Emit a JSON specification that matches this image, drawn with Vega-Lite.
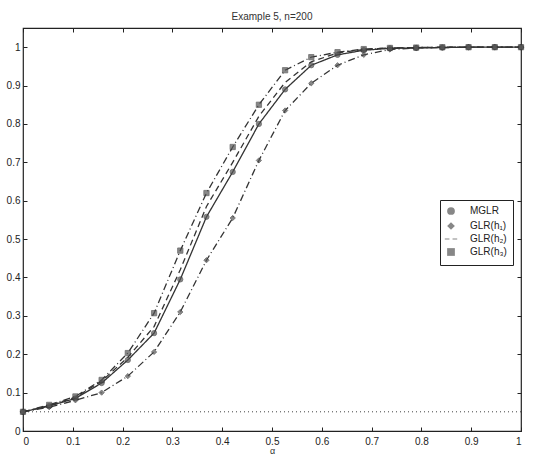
{
  "$schema": "https://vega.github.io/schema/vega-lite/v6.json",
  "width": 498,
  "height": 403,
  "autosize": "none",
  "padding": {"left": 23, "top": 28, "right": 12, "bottom": 26},
  "background": "white",
  "title": {"text": "Example 5,  n=200", "fontSize": 10, "font": "Liberation Sans", "fontWeight": "normal", "offset": 6, "color": "#333"},
  "config": {
    "view": {"stroke": "#222", "strokeWidth": 1.2},
    "axis": {"grid": false, "domain": false, "tickColor": "#222", "tickSize": -4, "labelFont": "Liberation Sans", "labelFontSize": 10, "labelColor": "#222", "format": "~g", "titleFont": "Liberation Sans", "titleFontWeight": "normal", "titleFontSize": 9, "titleColor": "#333"},
    "legend": {"labelFont": "Liberation Sans", "labelFontSize": 10, "labelColor": "#222"}
  },
  "datasets": {
    "level": [{"level": 0.05}],
    "curves": [
      {"series": "MGLR", "a": 0, "p": 0.05}, {"series": "MGLR", "a": 0.0526, "p": 0.065}, {"series": "MGLR", "a": 0.1053, "p": 0.085}, {"series": "MGLR", "a": 0.1579, "p": 0.125}, {"series": "MGLR", "a": 0.2105, "p": 0.185}, {"series": "MGLR", "a": 0.2632, "p": 0.255}, {"series": "MGLR", "a": 0.3158, "p": 0.395}, {"series": "MGLR", "a": 0.3684, "p": 0.558}, {"series": "MGLR", "a": 0.4211, "p": 0.675}, {"series": "MGLR", "a": 0.4737, "p": 0.8}, {"series": "MGLR", "a": 0.5263, "p": 0.89}, {"series": "MGLR", "a": 0.5789, "p": 0.953}, {"series": "MGLR", "a": 0.6316, "p": 0.98}, {"series": "MGLR", "a": 0.6842, "p": 0.992}, {"series": "MGLR", "a": 0.7368, "p": 0.997}, {"series": "MGLR", "a": 0.7895, "p": 0.998}, {"series": "MGLR", "a": 0.8421, "p": 0.999}, {"series": "MGLR", "a": 0.8947, "p": 1}, {"series": "MGLR", "a": 0.9474, "p": 1}, {"series": "MGLR", "a": 1, "p": 1},
      {"series": "GLR(h₁)", "a": 0, "p": 0.05}, {"series": "GLR(h₁)", "a": 0.0526, "p": 0.062}, {"series": "GLR(h₁)", "a": 0.1053, "p": 0.08}, {"series": "GLR(h₁)", "a": 0.1579, "p": 0.1}, {"series": "GLR(h₁)", "a": 0.2105, "p": 0.143}, {"series": "GLR(h₁)", "a": 0.2632, "p": 0.206}, {"series": "GLR(h₁)", "a": 0.3158, "p": 0.31}, {"series": "GLR(h₁)", "a": 0.3684, "p": 0.445}, {"series": "GLR(h₁)", "a": 0.4211, "p": 0.555}, {"series": "GLR(h₁)", "a": 0.4737, "p": 0.705}, {"series": "GLR(h₁)", "a": 0.5263, "p": 0.835}, {"series": "GLR(h₁)", "a": 0.5789, "p": 0.906}, {"series": "GLR(h₁)", "a": 0.6316, "p": 0.953}, {"series": "GLR(h₁)", "a": 0.6842, "p": 0.98}, {"series": "GLR(h₁)", "a": 0.7368, "p": 0.994}, {"series": "GLR(h₁)", "a": 0.7895, "p": 0.998}, {"series": "GLR(h₁)", "a": 0.8421, "p": 0.999}, {"series": "GLR(h₁)", "a": 0.8947, "p": 1}, {"series": "GLR(h₁)", "a": 0.9474, "p": 1}, {"series": "GLR(h₁)", "a": 1, "p": 1},
      {"series": "GLR(h₂)", "a": 0, "p": 0.05}, {"series": "GLR(h₂)", "a": 0.0526, "p": 0.066}, {"series": "GLR(h₂)", "a": 0.1053, "p": 0.088}, {"series": "GLR(h₂)", "a": 0.1579, "p": 0.13}, {"series": "GLR(h₂)", "a": 0.2105, "p": 0.192}, {"series": "GLR(h₂)", "a": 0.2632, "p": 0.272}, {"series": "GLR(h₂)", "a": 0.3158, "p": 0.42}, {"series": "GLR(h₂)", "a": 0.3684, "p": 0.585}, {"series": "GLR(h₂)", "a": 0.4211, "p": 0.7}, {"series": "GLR(h₂)", "a": 0.4737, "p": 0.82}, {"series": "GLR(h₂)", "a": 0.5263, "p": 0.908}, {"series": "GLR(h₂)", "a": 0.5789, "p": 0.962}, {"series": "GLR(h₂)", "a": 0.6316, "p": 0.985}, {"series": "GLR(h₂)", "a": 0.6842, "p": 0.994}, {"series": "GLR(h₂)", "a": 0.7368, "p": 0.998}, {"series": "GLR(h₂)", "a": 0.7895, "p": 0.999}, {"series": "GLR(h₂)", "a": 0.8421, "p": 1}, {"series": "GLR(h₂)", "a": 0.8947, "p": 1}, {"series": "GLR(h₂)", "a": 0.9474, "p": 1}, {"series": "GLR(h₂)", "a": 1, "p": 1},
      {"series": "GLR(h₃)", "a": 0, "p": 0.05}, {"series": "GLR(h₃)", "a": 0.0526, "p": 0.068}, {"series": "GLR(h₃)", "a": 0.1053, "p": 0.09}, {"series": "GLR(h₃)", "a": 0.1579, "p": 0.133}, {"series": "GLR(h₃)", "a": 0.2105, "p": 0.203}, {"series": "GLR(h₃)", "a": 0.2632, "p": 0.307}, {"series": "GLR(h₃)", "a": 0.3158, "p": 0.47}, {"series": "GLR(h₃)", "a": 0.3684, "p": 0.62}, {"series": "GLR(h₃)", "a": 0.4211, "p": 0.74}, {"series": "GLR(h₃)", "a": 0.4737, "p": 0.85}, {"series": "GLR(h₃)", "a": 0.5263, "p": 0.94}, {"series": "GLR(h₃)", "a": 0.5789, "p": 0.974}, {"series": "GLR(h₃)", "a": 0.6316, "p": 0.987}, {"series": "GLR(h₃)", "a": 0.6842, "p": 0.995}, {"series": "GLR(h₃)", "a": 0.7368, "p": 0.998}, {"series": "GLR(h₃)", "a": 0.7895, "p": 0.999}, {"series": "GLR(h₃)", "a": 0.8421, "p": 1}, {"series": "GLR(h₃)", "a": 0.8947, "p": 1}, {"series": "GLR(h₃)", "a": 0.9474, "p": 1}, {"series": "GLR(h₃)", "a": 1, "p": 1}
    ]
  },
  "resolve": {"axis": {"x": "independent", "y": "independent"}},
  "layer": [
    {
      "data": {"name": "level"},
      "mark": {"type": "rule", "strokeDash": [1, 3], "color": "#444", "strokeWidth": 1},
      "encoding": {
        "y": {"field": "level", "type": "quantitative", "scale": {"domain": [0, 1.05], "nice": false}, "axis": null}
      }
    },
    {
      "data": {"name": "curves"},
      "mark": {"type": "line", "color": "#333", "strokeWidth": 1.3},
      "encoding": {
        "x": {"field": "a", "type": "quantitative", "scale": {"domain": [0, 1], "nice": false}, "axis": {"values": [0, 0.1, 0.2, 0.3, 0.4, 0.5, 0.6, 0.7, 0.8, 0.9, 1], "title": "α", "titlePadding": 0, "labelPadding": 9}},
        "y": {"field": "p", "type": "quantitative", "scale": {"domain": [0, 1.05], "nice": false}, "axis": {"values": [0, 0.1, 0.2, 0.3, 0.4, 0.5, 0.6, 0.7, 0.8, 0.9, 1], "title": null, "labelPadding": 7}},
        "strokeDash": {"field": "series", "type": "nominal", "scale": {"domain": ["MGLR", "GLR(h₁)", "GLR(h₂)", "GLR(h₃)"], "range": [[1, 0], [7, 3, 1, 3], [6, 4], [7, 3, 1, 3]]},
          "legend": {"title": null, "orient": "none", "legendX": 417, "legendY": 172, "strokeColor": "#222", "fillColor": "white", "padding": 6, "symbolStrokeColor": "#333", "symbolFillColor": "#555", "symbolStrokeWidth": 1.5, "symbolSize": 60, "labelOffset": 14, "rowPadding": 1, "labelFontSize": 10}}
      }
    },
    {
      "data": {"name": "curves"},
      "transform": [{"filter": "datum.series !== 'GLR(h₂)'"}],
      "mark": {"type": "point", "filled": true, "color": "#555", "stroke": "#333", "strokeWidth": 0.8, "size": 28},
      "encoding": {
        "x": {"field": "a", "type": "quantitative", "scale": {"domain": [0, 1], "nice": false}, "axis": {"orient": "top", "labels": false, "title": null, "values": [0, 0.1, 0.2, 0.3, 0.4, 0.5, 0.6, 0.7, 0.8, 0.9, 1]}},
        "y": {"field": "p", "type": "quantitative", "scale": {"domain": [0, 1.05], "nice": false}, "axis": {"orient": "right", "labels": false, "title": null, "values": [0, 0.1, 0.2, 0.3, 0.4, 0.5, 0.6, 0.7, 0.8, 0.9, 1]}},
        "shape": {"field": "series", "type": "nominal", "scale": {"domain": ["MGLR", "GLR(h₁)", "GLR(h₂)", "GLR(h₃)"], "range": ["circle", "diamond", "M-1.6,-0.15H-0.4V0.15H-1.6Z M0.4,-0.15H1.6V0.15H0.4Z", "square"]},
          "legend": {"title": null, "orient": "none", "legendX": 417, "legendY": 172, "strokeColor": "#222", "fillColor": "white", "padding": 6, "symbolStrokeColor": "#333", "symbolFillColor": "#555", "symbolStrokeWidth": 1.5, "symbolSize": 60, "labelOffset": 14, "rowPadding": 1, "labelFontSize": 10}}
      }
    }
  ]
}
